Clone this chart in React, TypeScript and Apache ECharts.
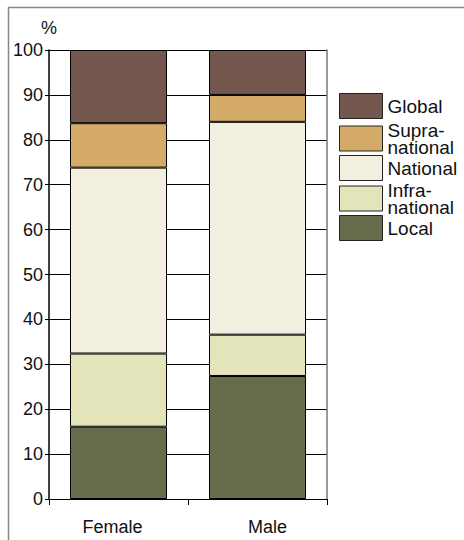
import React, { useEffect, useRef } from "react";
import * as echarts from "echarts";

const categories = ["Female", "Male"];
const seriesNames = ["Local", "Infra-\nnational", "National", "Supra-\nnational", "Global"];
const localValues = [16.1, 27.4];
const infraValues = [16.3, 9.2];
const nationalValues = [41.4, 47.4];
const supraValues = [9.9, 6.0];
const globalValues = [16.3, 10.0];
const colors = ["#666C4C", "#E3E4BA", "#F2EEE0", "#D4AA68", "#74574E"];
const legendOrder = ["Global", "Supra-\nnational", "National", "Infra-\nnational", "Local"];

export default function App() {
  const ref = useRef<HTMLDivElement>(null);
  useEffect(() => {
    if (!ref.current) return;
    const chart = echarts.init(ref.current, null, { renderer: "svg" });
    const values = [localValues, infraValues, nationalValues, supraValues, globalValues];
    const font = "Liberation Sans, Arial, sans-serif";
    const swatchTops = [93, 125, 155, 185, 215];
    const lineH = 17;
    const legends = legendOrder.map((name, i) => {
      const lines = name.split("\n").length;
      const textH = lines * lineH;
      const itemH = Math.max(25, textH);
      return {
        orient: "vertical",
        left: 339,
        top: swatchTops[i] - (itemH - 25) / 2,
        padding: 0,
        itemWidth: 43,
        itemHeight: 25,
        icon: "rect",
        data: [name],
        textStyle: { fontSize: 19, fontFamily: font, color: "#111", lineHeight: lineH },
        itemStyle: { borderColor: "#222", borderWidth: 1 },
      };
    });
    chart.setOption({
      animation: false,
      grid: { left: 49, top: 50, right: 137, bottom: 41 },
      graphic: [
        { type: "line", shape: { x1: 8, y1: 7.5, x2: 464, y2: 7.5 }, style: { stroke: "#888", lineWidth: 1.5 } },
        { type: "line", shape: { x1: 8.5, y1: 7, x2: 8.5, y2: 540 }, style: { stroke: "#888", lineWidth: 1.5 } },
      ],
      xAxis: {
        type: "category",
        data: categories,
        axisLine: { lineStyle: { color: "#000", width: 1 } },
        axisTick: { show: true, length: 6, inside: false, lineStyle: { color: "#000" } },
        axisLabel: {
          fontSize: 18,
          color: "#111",
          fontFamily: font,
          margin: 19,
          formatter: (v: string) => (v === "Female" ? "{a|" + v + "}" : "{b|" + v + "}"),
          rich: {
            a: { fontSize: 18, fontFamily: font, color: "#111", padding: [0, 12, 0, 0] },
            b: { fontSize: 18, fontFamily: font, color: "#111", padding: [0, 0, 0, 20] },
          },
        },
        splitLine: { show: false },
      },
      yAxis: [
        {
          type: "value",
          min: 0,
          max: 100,
          interval: 10,
          name: "%",
          nameLocation: "end",
          nameGap: 13,
          nameTextStyle: { fontSize: 18, fontFamily: font, color: "#111", align: "right", padding: [0, -8, 0, 0] },
          axisLine: { show: true, lineStyle: { color: "#000", width: 1.5 } },
          axisTick: { show: true, length: 4, lineStyle: { color: "#000" } },
          axisLabel: { fontSize: 18, fontFamily: font, color: "#111", margin: 6 },
          splitLine: { show: true, lineStyle: { color: "#000", width: 1 } },
        },
        {
          type: "value",
          position: "right",
          min: 0,
          max: 100,
          interval: 10,
          axisLine: { show: true, lineStyle: { color: "#777", width: 1.5 } },
          axisTick: { show: false },
          axisLabel: { show: false },
          splitLine: { show: false },
        },
      ],
      legend: legends,
      series: seriesNames.map((name, i) => ({
        name,
        type: "bar",
        stack: "total",
        barWidth: 97,
        data: values[i],
        itemStyle: { color: colors[i], borderColor: "#000", borderWidth: 1 },
      })),
    });
    return () => chart.dispose();
  }, []);
  return <div ref={ref} style={{ position: "absolute", left: 0, top: 0, width: 464, height: 540 }} />;
}
